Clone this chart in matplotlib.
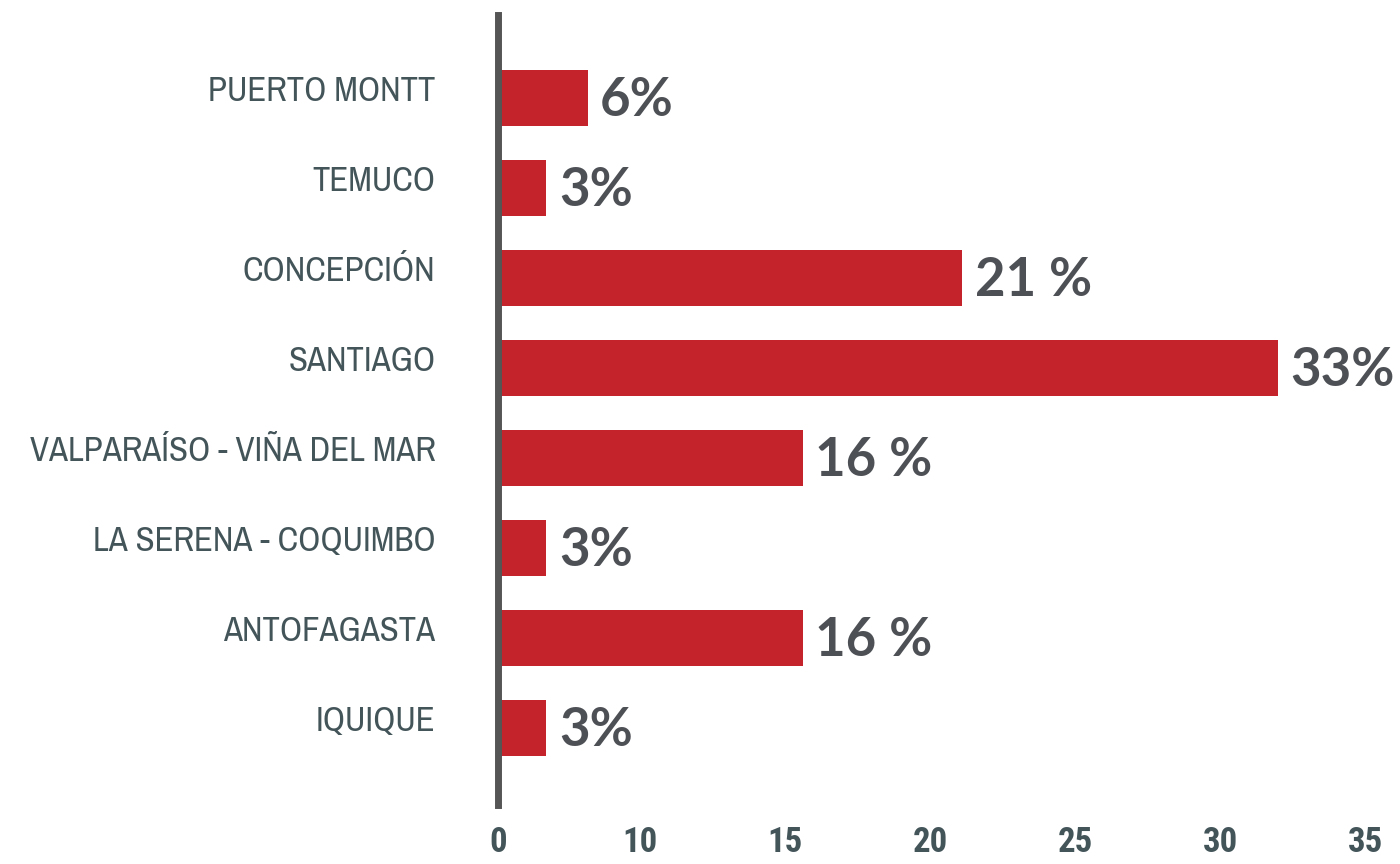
import matplotlib
matplotlib.use("Agg")
import matplotlib.pyplot as plt
import matplotlib.transforms as mtransforms
import numpy as np

# ---- data (de abajo hacia arriba) ----
cities = ["IQUIQUE", "ANTOFAGASTA", "LA SERENA - COQUIMBO", "VALPARAÍSO - VIÑA DEL MAR",
          "SANTIAGO", "CONCEPCIÓN", "TEMUCO", "PUERTO MONTT"]
bar_values = [3.4, 15.6, 3.4, 15.6, 32.0, 21.1, 3.4, 6.3]
value_labels = ["3%", "16 %", "3%", "16 %", "33%", "21 %", "3%", "6%"]
x_ticks = [0, 10, 15, 20, 25, 30, 35]

BAR_COLOR = "#c4232b"
VALUE_COLOR = "#4d5055"
LABEL_COLOR = "#44555a"
SPINE_COLOR = "#555555"
NARROW = ["Ubuntu Condensed", "Archivo Narrow", "Roboto Condensed", "DejaVu Sans"]
NARROW_BOLD = ["Roboto Condensed", "Archivo Narrow", "DejaVu Sans"]


# eje con tramo 0-10 comprimido (como en el original)
def fwd(v):
    v = np.asarray(v, dtype=float)
    return np.where(v < 10, v * 0.491, v - 5.09)


def inv(u):
    u = np.asarray(u, dtype=float)
    return np.where(u < 4.91, u / 0.491, u + 5.09)


fig = plt.figure(figsize=(14, 8.64), dpi=100)
ax = fig.add_axes([498 / 1400, 59 / 864, (1365 - 498) / 1400, 790 / 864])
ax.set_xscale("function", functions=(fwd, inv))

y = np.arange(len(cities))
ax.barh(y, bar_values, height=0.62, color=BAR_COLOR, zorder=1)

for yi, v, lab in zip(y, bar_values, value_labels):
    ax.annotate(lab, (v, yi), xytext=(9, -2), textcoords="offset points",
                ha="left", va="center", fontsize=38, fontweight="bold",
                family=["Lato", "DejaVu Sans"], color=VALUE_COLOR, clip_on=False)

ax.set_xlim(0, 35)
ax.set_ylim(-0.86, 7.92)
ax.set_xticks(x_ticks)
ax.set_xticklabels([str(t) for t in x_ticks])
ax.set_yticks(y)
ax.set_yticklabels(cities)

for s in ["top", "right", "bottom"]:
    ax.spines[s].set_visible(False)
ax.spines["left"].set_linewidth(5)
ax.spines["left"].set_color(SPINE_COLOR)
ax.spines["left"].set_zorder(3)

ax.tick_params(axis="y", length=0, pad=45)
ax.tick_params(axis="x", length=0, pad=15)
for t in ax.get_yticklabels():
    t.set_fontsize(25)
    t.set_family(NARROW)
    t.set_color(LABEL_COLOR)
    t.set_transform(t.get_transform() + mtransforms.ScaledTranslation(0, 10 / 100, fig.dpi_scale_trans))
for t in ax.get_xticklabels():
    t.set_fontsize(25)
    t.set_family(NARROW_BOLD)
    t.set_fontweight("bold")
    t.set_color(LABEL_COLOR)

fig.savefig("out.png", dpi=100)
